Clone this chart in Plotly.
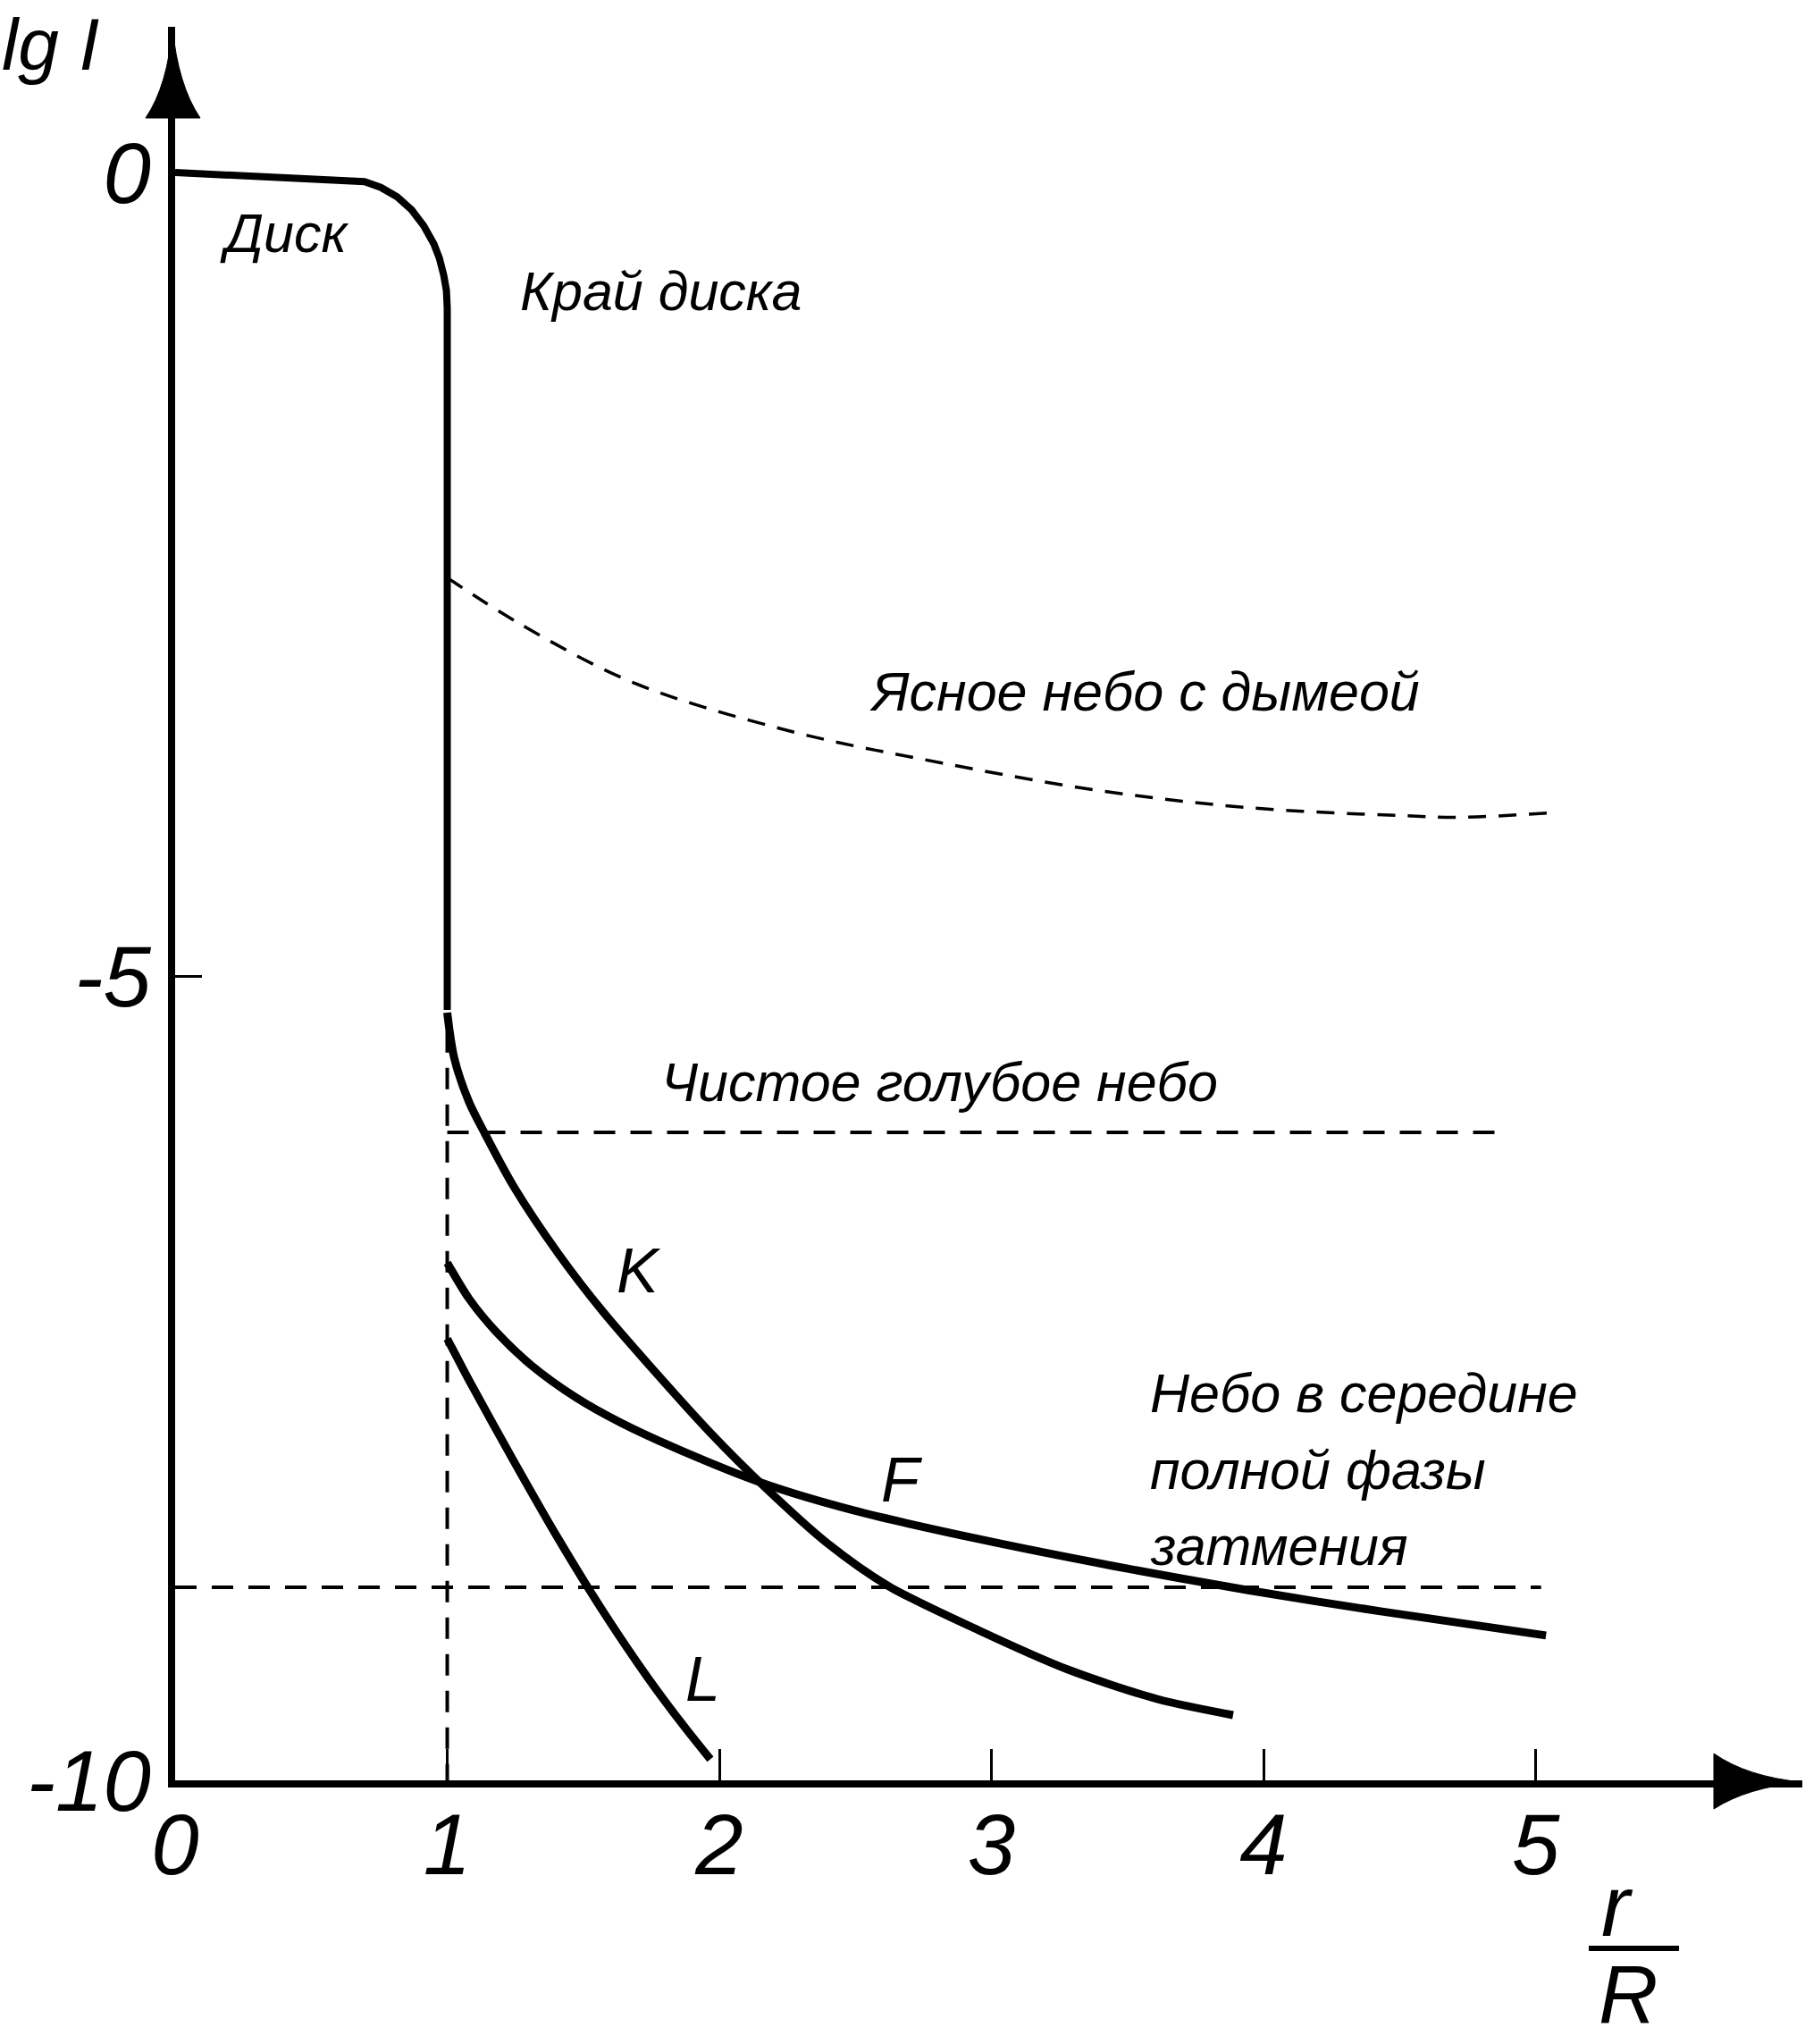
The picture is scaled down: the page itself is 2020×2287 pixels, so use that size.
import plotly.graph_objects as go

# ---------------- data ----------------
disk_x = [0.0, 0.631, 0.696, 0.756, 0.816, 0.869, 0.913, 0.951, 0.971, 0.987, 0.997, 1.0, 1.0]
disk_y = [0.0, -0.044, -0.057, -0.093, -0.152, -0.232, -0.330, -0.445, -0.532, -0.638, -0.734, -0.845, -5.208]

haze_x = [1.0, 1.26, 1.68, 2.25, 2.81, 3.38, 3.94, 4.51, 4.73, 5.08]
haze_y = [-2.52, -2.80, -3.17, -3.47, -3.67, -3.84, -3.95, -4.00, -4.01, -3.98]

blue_x = [1.0, 4.89]
blue_y = [-5.97, -5.97]

mid_x = [0.0, 5.02]
mid_y = [-8.80, -8.80]

edge_x = [1.0, 1.0]
edge_y = [-5.34, -10.0]

k_x = [1.0, 1.025, 1.080, 1.136, 1.245, 1.409, 1.573, 1.770, 1.967, 2.164, 2.394, 2.624,
       2.952, 3.281, 3.609, 3.888]
k_y = [-5.225, -5.503, -5.781, -5.970, -6.309, -6.726, -7.087, -7.471, -7.838, -8.171, -8.521,
       -8.794, -9.066, -9.311, -9.494, -9.594]

f_x = [1.0, 1.080, 1.179, 1.310, 1.475, 1.639, 1.836, 2.164, 2.493, 2.952, 3.445, 3.938, 4.430, 5.038]
f_y = [-6.781, -7.004, -7.209, -7.420, -7.621, -7.777, -7.932, -8.155, -8.321, -8.499, -8.666,
       -8.816, -8.949, -9.099]

l_x = [1.0, 1.090, 1.245, 1.409, 1.573, 1.737, 1.869, 1.967]
l_y = [-7.254, -7.543, -8.016, -8.500, -8.950, -9.361, -9.661, -9.869]

x_ticks = [0, 1, 2, 3, 4, 5]
x_ticktext = ["0", "1", "2", "3", "4", "5"]
y_ticks = [0, -5, -10]
y_ticktext = ["0", "-5", "-10"]

# ---------------- layout geometry ----------------
W, H = 2020, 2287
L_M, R_M, T_M, B_M = 196, 3, 30, 295
X_MAX = 5.98
Y_MIN, Y_MAX = -10.0, 0.906
PW = W - L_M - R_M
PH = H - T_M - B_M

FONT = "Liberation Sans, Arial, sans-serif"


def ppx(px):
    return (px - L_M) / PW


def ppy(py):
    return 1 - (py - T_M) / PH


def path(points):
    s = ""
    for cmd, pts in points:
        s += cmd + " ".join(f"{ppx(x):.5f},{ppy(y):.5f}" for x, y in pts) + " "
    return s + "Z"


fig = go.Figure()

solid = dict(color="black", width=9, shape="spline", smoothing=0.8)
dashed = dict(color="black", width=4, dash="24px,17px")

fig.add_trace(go.Scatter(x=disk_x, y=disk_y, mode="lines",
                         line=dict(color="black", width=8)))
fig.add_trace(go.Scatter(x=haze_x, y=haze_y, mode="lines",
                         line=dict(color="black", width=3.5, dash="20px,14px", shape="spline")))
fig.add_trace(go.Scatter(x=blue_x, y=blue_y, mode="lines", line=dashed))
fig.add_trace(go.Scatter(x=mid_x, y=mid_y, mode="lines", line=dashed))
fig.add_trace(go.Scatter(x=edge_x, y=edge_y, mode="lines", line=dashed))
fig.add_trace(go.Scatter(x=k_x, y=k_y, mode="lines", line=solid))
fig.add_trace(go.Scatter(x=f_x, y=f_y, mode="lines", line=solid))
fig.add_trace(go.Scatter(x=l_x, y=l_y, mode="lines", line=solid))

lab = dict(family=FONT, size=61, color="black", style="italic")
labels = [
    ("Диск", 0.40, -0.38),
    ("Край диска", 1.787, -0.74),
    ("Ясное небо с дымеой", 3.563, -3.23),
    ("Чистое голубое небо", 2.808, -5.66),
]
for t, x, y in labels:
    fig.add_annotation(x=x, y=y, text=t, showarrow=False, font=lab,
                       xanchor="center", yanchor="middle")

letter = dict(lab, size=70)
for t, x, y in [("K", 1.704, -6.83), ("F", 2.673, -8.13), ("L", 1.938, -9.37)]:
    fig.add_annotation(x=x, y=y, text=t, showarrow=False, font=letter,
                       xanchor="center", yanchor="middle")

for t, y in [("Небо в середине", -7.593), ("полной фазы", -8.071), ("затмения", -8.544)]:
    fig.add_annotation(x=3.575, y=y, text=t, showarrow=False, font=lab,
                       xanchor="left", yanchor="middle", align="left")

big = dict(family=FONT, size=96, color="black", style="italic")
fig.add_annotation(xref="paper", yref="paper", x=ppx(56), y=ppy(50), text="lg I",
                   showarrow=False, font=dict(big, size=82), xanchor="center", yanchor="middle")
fig.add_annotation(xref="paper", yref="paper", x=ppx(1810), y=ppy(2132), text="r",
                   showarrow=False, font=big, xanchor="center", yanchor="middle")
fig.add_annotation(xref="paper", yref="paper", x=ppx(1822), y=ppy(2232), text="R",
                   showarrow=False, font=dict(big, size=92), xanchor="center", yanchor="middle")

# fraction bar of r/R
fig.add_shape(type="line", xref="paper", yref="paper",
              x0=ppx(1778), x1=ppx(1879), y0=ppy(2180), y1=ppy(2180),
              line=dict(color="black", width=6))

# axis arrow heads
fig.add_shape(type="path", xref="paper", yref="paper", fillcolor="black",
              line=dict(color="black", width=1),
              path=path([("M", [(193, 30)]), ("Q", [(199, 95), (224, 132)]),
                         ("L", [(163, 132)]), ("Q", [(188, 95), (193, 30)])]))
fig.add_shape(type="path", xref="paper", yref="paper", fillcolor="black",
              line=dict(color="black", width=1),
              path=path([("M", [(2017, 1994)]), ("Q", [(1955, 1988), (1918, 1962)]),
                         ("L", [(1918, 2024)]), ("Q", [(1955, 2000), (2017, 1994)])]))

fig.update_layout(
    width=W, height=H,
    margin=dict(l=L_M, r=R_M, t=T_M, b=B_M, pad=0),
    paper_bgcolor="white", plot_bgcolor="white",
    showlegend=False,
    xaxis=dict(range=[0, X_MAX], showgrid=False, zeroline=False,
               showline=True, linecolor="black", linewidth=8,
               tickmode="array", tickvals=x_ticks, ticktext=x_ticktext,
               ticks="inside", ticklen=35, tickwidth=3, tickcolor="black",
               tickfont=big, ticklabelstandoff=-18),
    yaxis=dict(range=[Y_MIN, Y_MAX], showgrid=False, zeroline=False,
               showline=True, linecolor="black", linewidth=8,
               tickmode="array", tickvals=y_ticks, ticktext=y_ticktext,
               ticks="inside", ticklen=30, tickwidth=3, tickcolor="black",
               tickfont=big, ticklabelstandoff=0),
)

fig.write_html("out.html", config={"displayModeBar": False},
               post_script="document.body.style.margin='0';document.body.style.padding='0';document.body.style.overflow='hidden';")
